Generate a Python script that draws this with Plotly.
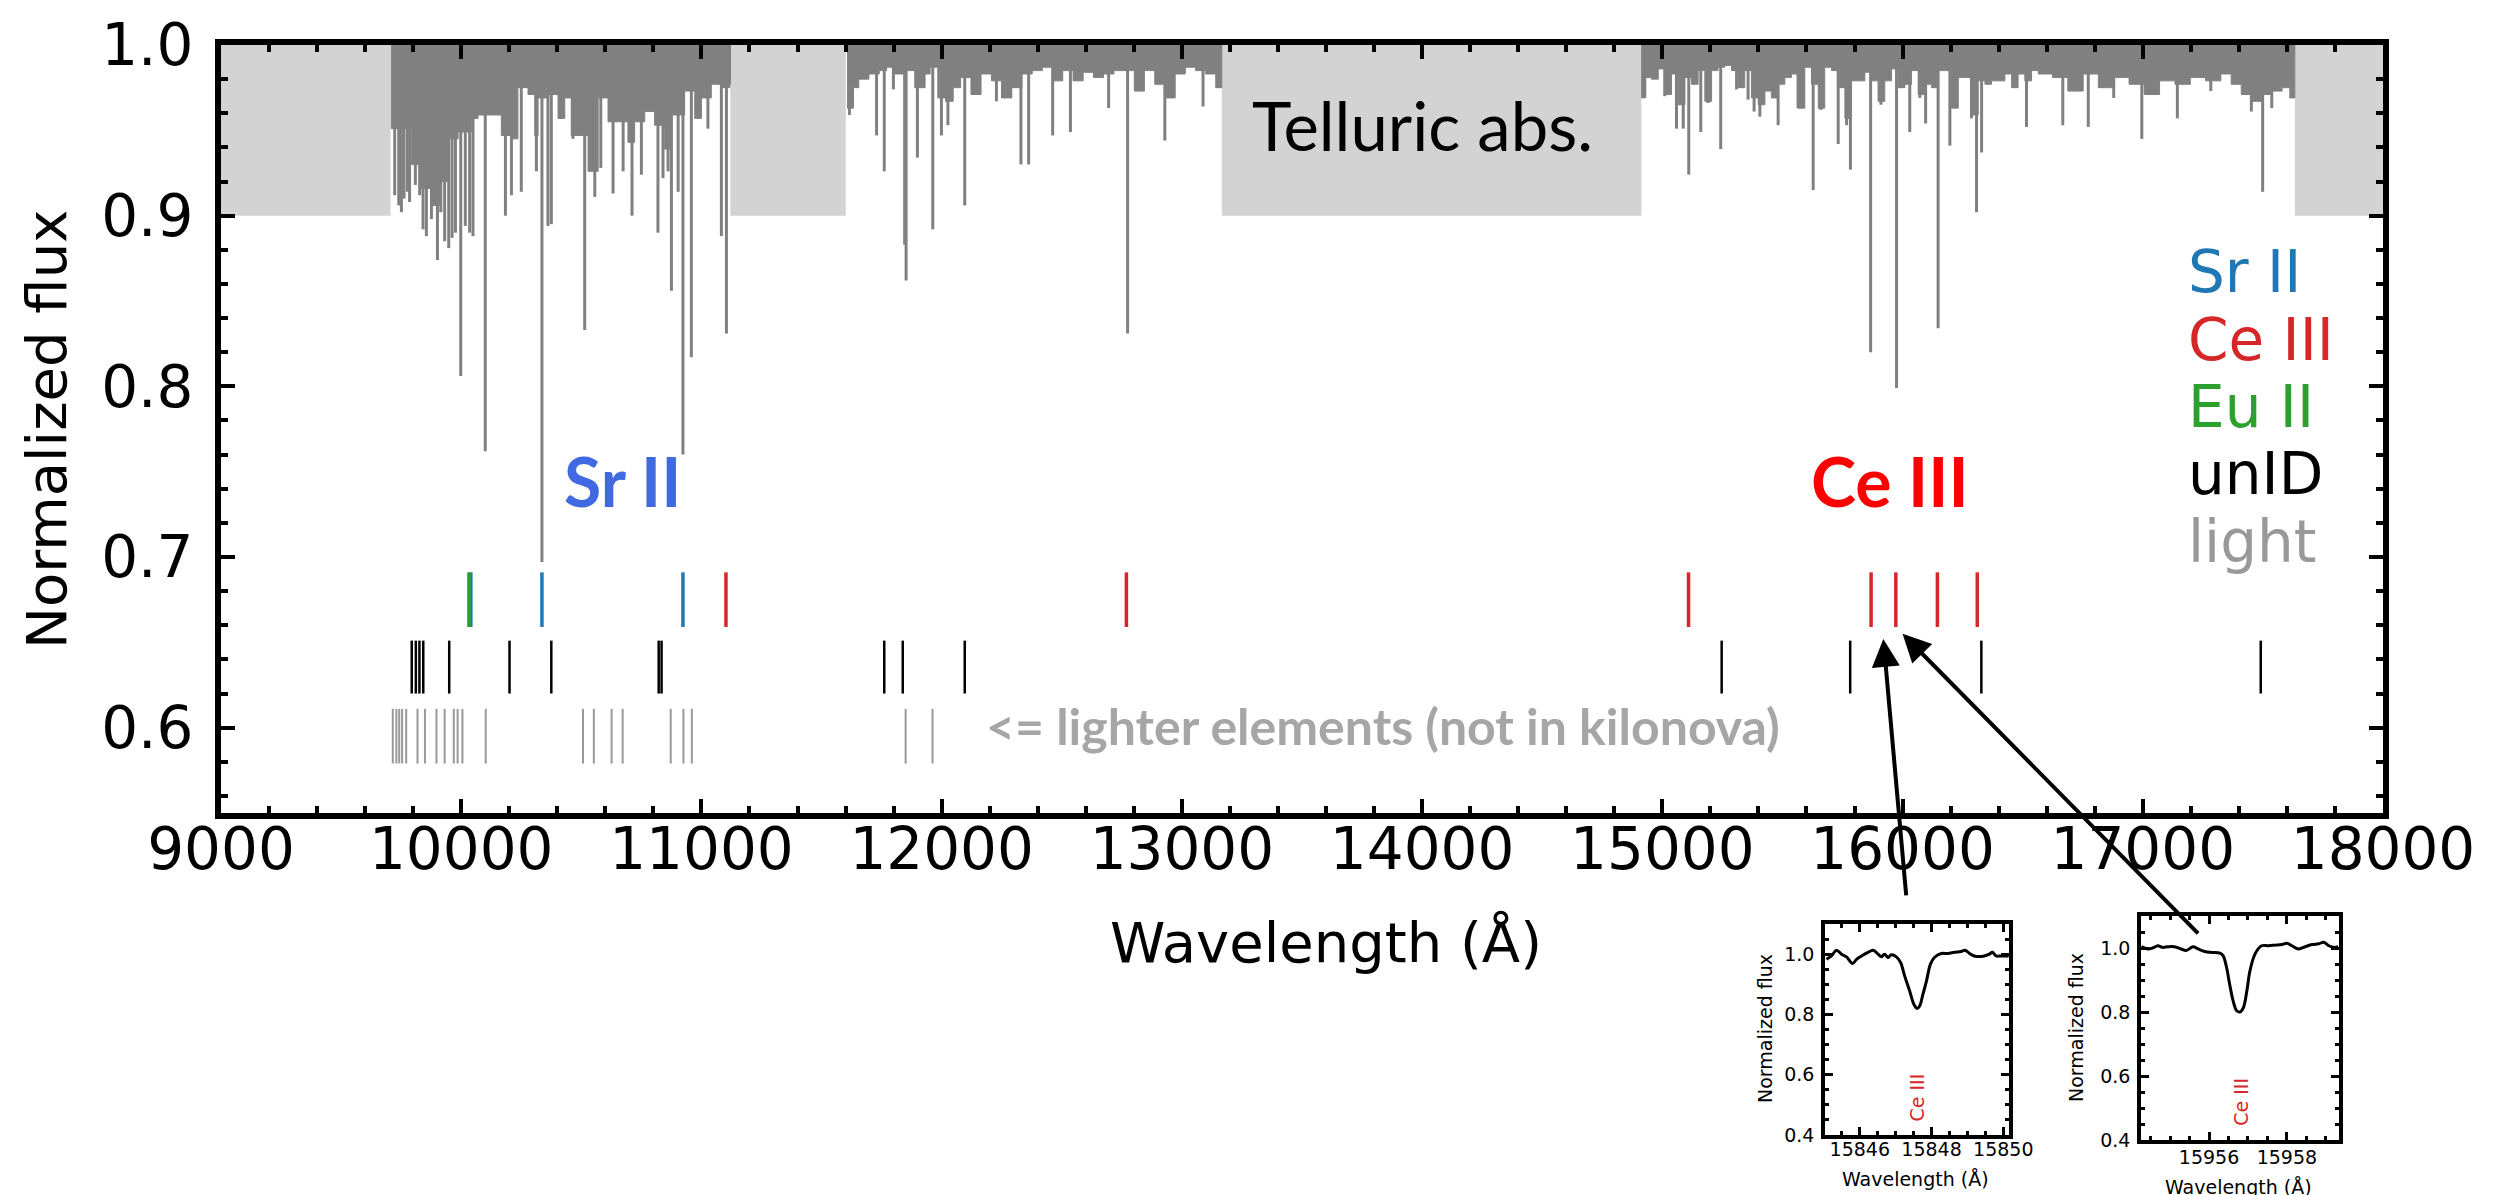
import plotly.graph_objects as go

W, H = 2506, 1195

# ---------------- data ----------------
# wavelength ranges hidden by telluric absorption (light grey boxes)
tell_gap_lo = [9000, 11120, 13166, 17633]
tell_gap_hi = [9706, 11601, 14913, 18000]

# observed spectrum: envelope of the dense absorption (three windows)
env1_w = [9706, 9709, 9758, 9792, 9834, 9876, 9910, 9945, 9987, 10042, 10070, 10125, 10167, 10209,
          10236, 10278, 10306, 10320, 10361, 10403, 10431, 10458, 10486, 10528, 10570, 10611, 10653,
          10694, 10722, 10764, 10805, 10847, 10875, 10930, 10972, 11000, 11041, 11083, 11118, 11121]
env1_f = [1.0, 0.951, 0.951, 0.930, 0.916, 0.906, 0.920, 0.945, 0.949, 0.957, 0.959, 0.959, 0.947, 0.945,
          0.975, 0.971, 0.947, 0.969, 0.971, 0.957, 0.969, 0.947, 0.947, 0.926, 0.969, 0.955, 0.955,
          0.943, 0.955, 0.961, 0.953, 0.939, 0.959, 0.973, 0.957, 0.969, 0.977, 0.975, 0.977, 1.0]
env2_w = [11601, 11608, 11633, 11655, 11697, 11740, 11771, 11803, 11846, 11888, 11931, 11952, 11984,
          12016, 12048, 12079, 12122, 12164, 12207, 12249, 12292, 12334, 12377, 12419, 12462, 12504,
          12547, 12589, 12632, 12674, 12717, 12759, 12802, 12844, 12887, 12929, 12972, 13014, 13057,
          13099, 13141, 13166]
env2_f = [1.0, 0.963, 0.975, 0.980, 0.983, 0.985, 0.987, 0.983, 0.985, 0.975, 0.983, 0.987, 0.969,
          0.967, 0.975, 0.981, 0.971, 0.983, 0.979, 0.969, 0.975, 0.983, 0.985, 0.987, 0.979, 0.985,
          0.979, 0.984, 0.981, 0.983, 0.985, 0.985, 0.973, 0.985, 0.977, 0.969, 0.983, 0.987, 0.985,
          0.983, 0.975, 1.0]
env3_w = [14913, 14914, 14927, 14955, 14983, 15010, 15038, 15066, 15094, 15121, 15149, 15177, 15205,
          15232, 15260, 15288, 15316, 15343, 15371, 15399, 15427, 15454, 15482, 15510, 15538, 15565,
          15593, 15621, 15649, 15676, 15704, 15732, 15760, 15787, 15815, 15843, 15871, 15898, 15926,
          15954, 15982, 16010, 16037, 16065, 16093, 16121, 16148, 16176, 16204, 16232, 16259, 16287,
          16315, 16343, 16370, 16398, 16426, 16454, 16481, 16509, 16537, 16565, 16624, 16688, 16752,
          16815, 16879, 16943, 17006, 17070, 17134, 17198, 17261, 17325, 17368, 17410, 17452, 17495,
          17537, 17580, 17612, 17633]
env3_f = [1.0, 0.969, 0.981, 0.980, 0.986, 0.971, 0.983, 0.965, 0.981, 0.977, 0.985, 0.967, 0.985,
          0.987, 0.988, 0.985, 0.975, 0.985, 0.969, 0.965, 0.973, 0.969, 0.977, 0.981, 0.983, 0.963,
          0.987, 0.977, 0.963, 0.987, 0.985, 0.975, 0.957, 0.979, 0.979, 0.984, 0.979, 0.967, 0.979,
          0.986, 0.975, 0.977, 0.985, 0.971, 0.977, 0.975, 0.985, 0.985, 0.963, 0.981, 0.981, 0.959,
          0.979, 0.977, 0.979, 0.979, 0.983, 0.975, 0.983, 0.979, 0.985, 0.983, 0.981, 0.973, 0.983,
          0.975, 0.981, 0.977, 0.971, 0.979, 0.977, 0.981, 0.979, 0.983, 0.977, 0.971, 0.967, 0.971,
          0.973, 0.975, 0.969, 1.0]

# individual absorption lines (wavelength, minimum flux)
line_w = [9723, 9740, 9751, 9762, 9776, 9785, 9809, 9827, 9841, 9855, 9876, 9901, 9915, 9931, 9948,
          9962, 9976, 9998, 10017, 10035, 10049, 10100, 10184, 10209, 10250, 10313, 10336, 10361,
          10375, 10465, 10514, 10556, 10581, 10632, 10674, 10711, 10750, 10819, 10840, 10861, 10875,
          10903, 10923, 10958, 11027, 11083, 11104,
          11616, 11729, 11761, 11799, 11846, 11852, 11899, 11963, 11999, 12026, 12096, 12228, 12330,
          12362, 12462, 12536, 12695, 12774, 12929, 13088,
          14927, 15010, 15059, 15087, 15110, 15160, 15191, 15243, 15309, 15357, 15382, 15406, 15482,
          15565, 15628, 15660, 15732, 15767, 15783, 15867, 15910, 15975, 16030, 16072, 16096, 16148,
          16197, 16287, 16308, 16329, 16516, 16667, 16773, 16879, 16996, 17144, 17283, 17452, 17499,
          17537]
line_f = [0.912, 0.906, 0.902, 0.910, 0.914, 0.908, 0.918, 0.912, 0.892, 0.888, 0.898, 0.874, 0.902,
          0.885, 0.881, 0.887, 0.890, 0.806, 0.894, 0.890, 0.888, 0.762, 0.900, 0.912, 0.914, 0.926,
          0.697, 0.894, 0.895, 0.945, 0.833, 0.911, 0.928, 0.913, 0.926, 0.900, 0.924, 0.890, 0.922,
          0.926, 0.856, 0.914, 0.760, 0.817, 0.951, 0.888, 0.831,
          0.959, 0.947, 0.926, 0.974, 0.883, 0.862, 0.934, 0.892, 0.947, 0.953, 0.906, 0.967, 0.930,
          0.930, 0.947, 0.949, 0.963, 0.831, 0.944, 0.964,
          0.969, 0.970, 0.951, 0.951, 0.924, 0.949, 0.966, 0.939, 0.974, 0.968, 0.961, 0.958, 0.953,
          0.963, 0.915, 0.962, 0.942, 0.953, 0.927, 0.820, 0.965, 0.799, 0.949, 0.969, 0.954, 0.834,
          0.941, 0.957, 0.902, 0.937, 0.952, 0.953, 0.952, 0.969, 0.945, 0.957, 0.973, 0.961, 0.914,
          0.963]

# line identifications
sr2_w = [10040, 10336, 10923]
eu2_w = [10032]
ce3_w = [11102, 12769, 15109, 15869, 15972, 16145, 16311]
unid_w = [9794, 9811, 9826, 9842, 9950, 10201, 10375, 10822, 10834, 11761, 11838, 12096,
          15247, 15782, 16328, 17491]
light_w = [9715, 9730, 9742, 9754, 9771, 9818, 9849, 9897, 9931, 9969, 9985, 10005, 10102,
           10507, 10552, 10626, 10672, 10872, 10925, 10960, 11850, 11962]

# zoom-in panels (Ce III lines)
z1_w = [15845.07, 15845.21, 15845.35, 15845.49, 15845.63, 15845.80, 15845.91, 15846.05, 15846.23,
        15846.37, 15846.51, 15846.60, 15846.69, 15846.79, 15846.88, 15847.02, 15847.14, 15847.25,
        15847.39, 15847.51, 15847.60, 15847.67, 15847.76, 15847.85, 15847.97, 15848.08, 15848.27,
        15848.45, 15848.64, 15848.82, 15848.94, 15849.06, 15849.19, 15849.33, 15849.47, 15849.61,
        15849.70, 15849.80, 15849.94, 15850.07, 15850.15]
z1_f = [0.983, 0.994, 1.013, 1.000, 0.991, 0.969, 0.983, 0.994, 1.006, 1.013, 1.000, 0.991, 1.000,
        0.989, 0.998, 0.991, 0.972, 0.928, 0.878, 0.833, 0.820, 0.828, 0.867, 0.906, 0.967, 0.989,
        1.002, 1.002, 1.006, 1.009, 1.013, 1.002, 0.994, 0.992, 0.994, 1.000, 1.006, 0.994, 0.994,
        0.994, 0.994]
z1_ce3 = 15847.6
z2_w = [15954.26, 15954.42, 15954.55, 15954.68, 15954.81, 15954.94, 15955.11, 15955.28, 15955.41,
        15955.59, 15955.72, 15955.89, 15956.06, 15956.28, 15956.36, 15956.45, 15956.53, 15956.62,
        15956.71, 15956.79, 15956.88, 15956.97, 15957.05, 15957.18, 15957.35, 15957.53, 15957.70,
        15957.87, 15958.00, 15958.13, 15958.30, 15958.47, 15958.65, 15958.82, 15958.95, 15959.08,
        15959.21, 15959.32]
z2_f = [1.004, 0.997, 1.000, 1.007, 1.002, 1.004, 1.004, 0.997, 0.992, 1.004, 0.997, 0.989, 0.986,
        0.984, 0.976, 0.939, 0.886, 0.834, 0.804, 0.800, 0.813, 0.865, 0.928, 0.981, 1.007, 1.007,
        1.009, 1.011, 1.015, 1.007, 0.997, 1.004, 1.011, 1.013, 1.018, 1.007, 1.002, 1.004]
z2_ce3 = 15956.8

x_ticks = [9000, 10000, 11000, 12000, 13000, 14000, 15000, 16000, 17000, 18000]
y_ticks = [0.6, 0.7, 0.8, 0.9, 1.0]
z1_xticks = [15846, 15848, 15850]
z2_xticks = [15956, 15958]
z_yticks = [0.4, 0.6, 0.8, 1.0]

# ---------------- style ----------------
C_SR, C_CE, C_EU, C_UN, C_LI = "#1f77b4", "#d62728", "#2ca02c", "#000000", "#999999"
ROW_ID = (0.659, 0.691)
ROW_UN = (0.620, 0.651)
ROW_LI = (0.579, 0.611)
MPL = "DejaVu Sans"
PPT = "Lato"


def segs(ws, y0, y1s):
    xs, ys = [], []
    for w, y1 in zip(ws, y1s):
        xs += [w, w, None]
        ys += [y0, y1, None]
    return xs, ys


def P(px, py):
    return px / W, 1 - py / H


fig = go.Figure()

for lo, hi in zip(tell_gap_lo, tell_gap_hi):
    fig.add_shape(type="rect", xref="x", yref="y", x0=lo, x1=hi, y0=0.9, y1=1.0,
                  fillcolor="#d3d3d3", line_width=0, layer="below")

for ew, ef in [(env1_w, env1_f), (env2_w, env2_f), (env3_w, env3_f)]:
    fig.add_trace(go.Scatter(x=ew, y=ef, mode="lines", fill="toself", fillcolor="#808080",
                             line=dict(color="#808080", width=1, shape="hv"), hoverinfo="skip"))

lx, ly = segs(line_w, 1.0, line_f)
fig.add_trace(go.Scatter(x=lx, y=ly, mode="lines", line=dict(color="#808080", width=3)))

for ws, row, col, wd in [(light_w, ROW_LI, C_LI, 2), (unid_w, ROW_UN, C_UN, 2.5),
                         (sr2_w, ROW_ID, C_SR, 3.5), (eu2_w, ROW_ID, C_EU, 3.5),
                         (ce3_w, ROW_ID, C_CE, 3.5)]:
    sx, sy = segs(ws, row[0], [row[1]] * len(ws))
    fig.add_trace(go.Scatter(x=sx, y=sy, mode="lines", line=dict(color=col, width=wd)))

# insets
fig.add_trace(go.Scatter(x=z1_w, y=z1_f, mode="lines", line=dict(color="black", width=3, shape="spline"),
                         xaxis="x2", yaxis="y2"))
fig.add_trace(go.Scatter(x=z2_w, y=z2_f, mode="lines", line=dict(color="black", width=3, shape="spline"),
                         xaxis="x3", yaxis="y3"))

axis_common = dict(showgrid=False, zeroline=False, showline=True, linecolor="black",
                   mirror="allticks", ticks="inside", tickcolor="black", automargin=False,
                   tickangle=0)

main_font = dict(family=MPL, size=58, color="black")
small_font = dict(family=MPL, size=19, color="black")


def minor(dt, ln, wd):
    return dict(dtick=dt, ticks="inside", ticklen=ln, tickwidth=wd, tickcolor="black")


fig.update_layout(
    template="none",
    width=W, height=H, margin=dict(l=0, r=0, t=0, b=0, pad=0), autosize=False,
    paper_bgcolor="white", plot_bgcolor="white", showlegend=False,
    xaxis=dict(**axis_common, domain=[213 / W, 2375 / W], range=[9000, 18000],
               tickvals=x_ticks, tickformat="d", ticklen=14, tickwidth=4, linewidth=6,
               tickfont=main_font, minor=minor(200, 7, 4), ticklabelstandoff=-20),
    yaxis=dict(**axis_common, domain=[1 - 805 / H, 1 - 37 / H], range=[0.55, 1.0],
               tickvals=y_ticks, tickformat=".1f", ticklen=14, tickwidth=4, linewidth=6,
               tickfont=main_font, minor=minor(0.02, 7, 4), ticklabelstandoff=10),
    xaxis2=dict(**axis_common, domain=[1817 / W, 2001 / W], range=[15845.03, 15850.16], anchor="y2",
                tickvals=z1_xticks, tickformat="d", ticklen=8, tickwidth=2.5, linewidth=3.5,
                tickfont=small_font, minor=minor(0.5, 4, 2.5), ticklabelstandoff=-6),
    yaxis2=dict(**axis_common, domain=[1 - 1127 / H, 1 - 916 / H], range=[0.4, 1.1], anchor="x2",
                tickvals=z_yticks, tickformat=".1f", ticklen=8, tickwidth=2.5, linewidth=3.5,
                tickfont=small_font, minor=minor(0.05, 4, 2.5), ticklabelstandoff=3),
    xaxis3=dict(**axis_common, domain=[2133 / W, 2331 / W], range=[15954.25, 15959.34], anchor="y3",
                tickvals=z2_xticks, tickformat="d", ticklen=8, tickwidth=2.5, linewidth=3.5,
                tickfont=small_font, minor=minor(0.5, 4, 2.5), ticklabelstandoff=-3),
    yaxis3=dict(**axis_common, domain=[1 - 1132 / H, 1 - 908 / H], range=[0.4, 1.1], anchor="x3",
                tickvals=z_yticks, tickformat=".1f", ticklen=8, tickwidth=2.5, linewidth=3.5,
                tickfont=small_font, minor=minor(0.05, 4, 2.5), ticklabelstandoff=3),
)

ann = []


def text(px, py, s, size, color="black", family=MPL, xanchor="center", angle=0, bold=False):
    x, y = P(px, py)
    ann.append(dict(xref="paper", yref="paper", x=x, y=y, text=s, showarrow=False,
                    xanchor=xanchor, yanchor="middle", textangle=angle,
                    font=dict(family=family, size=size, color=color,
                              weight="bold" if bold else "normal")))


# axis titles
text(1318, 934, "Wavelength (Å)", 56)
text(38, 422, "Normalized flux", 56, angle=-90)
# legend
for i, (lab, col) in enumerate([("Sr II", C_SR), ("Ce III", C_CE), ("Eu II", C_EU),
                                ("unID", C_UN), ("light", C_LI)]):
    text(2178, 264 + 67.5 * i, lab, 58, color=col, xanchor="left")
# overlaid labels
text(1414, 117, "Telluric abs.", 67, family=PPT)
text(614, 473, "Sr II", 68, color="#4169e1", family=PPT, bold=True)
text(1882, 473, "Ce III", 68, color="#ff0000", family=PPT, bold=True)
text(976, 718, "<= lighter elements (not in kilonova)", 50, color="#a6a6a6", family=PPT,
     xanchor="left", bold=True)
# inset titles
text(1757, 1021, "Normalized flux", 19, angle=-90)
text(1907, 1171, "Wavelength (Å)", 19)
text(2068, 1020, "Normalized flux", 19, angle=-90)
text(2230, 1179, "Wavelength (Å)", 19)

# Ce III labels in insets
ann.append(dict(xref="x2", yref="y2", x=z1_ce3, y=0.525, text="Ce III", showarrow=False, textangle=-90,
                xanchor="center", yanchor="middle", font=dict(family=MPL, size=19, color=C_CE)))
ann.append(dict(xref="x3", yref="y3", x=z2_ce3, y=0.52, text="Ce III", showarrow=False, textangle=-90,
                xanchor="center", yanchor="middle", font=dict(family=MPL, size=19, color=C_CE)))

# arrows from insets to the Ce III lines
ann.append(dict(xref="x", yref="y", x=15920, y=0.652, ax=23, ay=258, text="", showarrow=True,
                arrowhead=2, arrowsize=1.4, arrowwidth=4, arrowcolor="black", standoff=0))
ann.append(dict(xref="x", yref="y", x=16000, y=0.655, ax=297, ay=301, text="", showarrow=True,
                arrowhead=2, arrowsize=1.4, arrowwidth=4, arrowcolor="black", standoff=0))

fig.update_layout(annotations=ann)
fig.write_html("out.html")
